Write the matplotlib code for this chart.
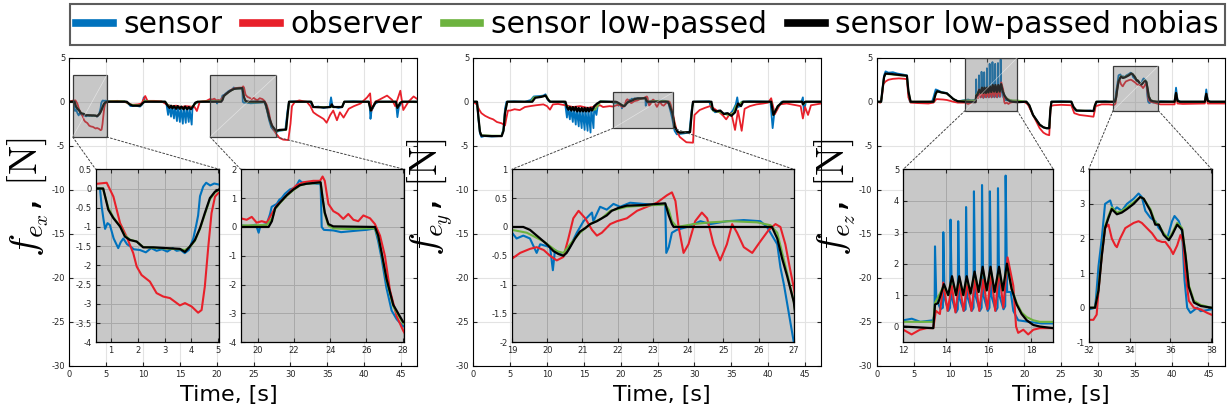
import matplotlib
matplotlib.use('Agg')
import matplotlib.pyplot as plt
from matplotlib.patches import Rectangle, ConnectionPatch
from matplotlib.lines import Line2D
from matplotlib.ticker import FormatStrFormatter

plt.rcParams['mathtext.fontset'] = 'cm'
plt.rcParams['axes.unicode_minus'] = False
plt.rcParams['font.family'] = 'DejaVu Sans'

# ---------------- f_ex ----------------
fx_sensor_t = [0.0, 0.59, 0.65, 0.72, 0.78, 0.87, 0.96, 1.1, 1.27, 1.36, 1.46, 1.6, 1.71, 1.85, 2.08, 2.3, 2.5, 2.7,
               2.9, 3.1, 3.3, 3.45, 3.6, 3.75, 3.9, 4.07, 4.18, 4.25, 4.32, 4.44, 4.55, 4.7, 4.85, 5.05,
               5.5, 6.5, 7.5, 8.0, 8.3, 9.0, 9.6, 9.9, 10.1, 10.3, 11.0, 12.0, 13.0, 13.2,
               13.4, 13.5, 13.8, 13.9, 14.2, 14.3, 14.6, 14.7, 15.0, 15.1, 15.4, 15.5, 15.8, 15.9, 16.2, 16.3,
               16.6, 16.7, 17.0, 17.3, 18.0,
               19.06, 19.5, 19.9, 20.05, 20.15, 20.5, 20.68, 20.77, 21.05, 21.2, 21.32, 21.5, 21.78, 22.0, 22.15,
               22.3, 22.43, 22.7, 23.0, 23.25, 23.47, 23.53, 23.65, 24.17, 24.6, 25.1, 25.6, 26.0, 26.47, 26.65,
               26.84, 27.1, 27.39, 27.67, 28.03,
               28.5, 29.3, 29.6, 29.8, 30.5, 31.5, 32.7, 33.0, 33.8, 34.5, 35.3, 35.5, 35.7, 36.5, 37.0, 37.3,
               38.5, 40.0, 40.7, 40.85, 41.0, 41.5, 42.0, 44.3, 44.5, 44.7, 45.2, 47.2]
fx_sensor = [0.0, 0.0, -0.45, -0.8, -1.05, -0.9, -0.95, -1.3, -1.55, -1.4, -1.3, -1.45, -1.5, -1.58, -1.6, -1.66, -1.55, -1.62,
             -1.58, -1.64, -1.55, -1.62, -1.6, -1.68, -1.6, -1.3, -0.95, -0.7, -0.2, 0.05, 0.15, 0.08, 0.13, 0.1,
             0.05, 0.0, 0.05, -0.2, -0.5, -0.45, -0.55, -0.3, 0.5, 0.0, 0.05, 0.0, 0.0, -0.4,
             -1.5, -0.4, -1.7, -0.5, -1.9, -0.5, -2.2, -0.6, -2.3, -0.6, -2.5, -0.6, -2.4, -0.6, -2.3, -0.7,
             -2.6, -0.8, -0.2, -0.1, 0.0,
             0.05, 0.03, 0.08, -0.2, 0.05, 0.1, 0.45, 0.7, 0.8, 0.95, 1.0, 1.15, 1.3, 1.35, 1.45,
             1.62, 1.55, 1.5, 1.52, 1.5, 1.5, 0.0, -0.1, -0.12, -0.18, -0.15, -0.12, -0.1, -0.05, -0.5,
             -1.1, -2.1, -2.9, -3.2, -3.45,
             -3.3, -3.2, -1.0, 0.0, 0.05, 0.0, 0.0, -0.6, -0.55, -0.7, -0.6, 0.5, -0.5, -0.7, -0.6, 0.0,
             0.05, 0.0, 0.0, -1.95, -1.0, -0.2, 0.0, 0.0, -1.75, -0.6, 0.0, 0.0]

fx_observer_t = [0.0, 0.43, 0.84, 1.09, 1.34, 1.58, 1.83, 1.96, 2.14, 2.45, 2.7, 2.95, 3.2, 3.57, 3.76, 4.01, 4.25,
                 4.38, 4.5, 4.63, 4.75, 4.88, 5.0,
                 5.5, 6.5, 7.5, 8.0, 8.5, 9.3, 9.8, 10.3, 10.6, 11.5, 12.5, 13.2, 13.8, 14.5, 15.2, 15.8, 16.5,
                 17.0, 17.3, 17.7, 18.6,
                 19.06, 19.39, 19.67, 19.94, 20.22, 20.5, 20.77, 21.05, 21.3, 21.6, 21.9, 22.15, 22.52, 23.07,
                 23.44, 23.58, 23.7, 23.9, 24.17, 24.45, 24.72, 25.0, 25.28, 25.55, 25.83, 26.2, 26.47, 26.75,
                 27.02, 27.3, 27.67, 28.03,
                 28.5, 29.0, 29.7, 30.0, 30.2, 30.6, 31.2, 31.8, 32.2, 32.7, 33.1, 33.6, 34.0, 34.5, 34.9, 35.4,
                 35.8, 36.3, 36.7, 37.2, 37.9, 38.6, 39.5, 40.4, 40.8, 41.0, 41.5, 42.2, 43.1, 43.8, 44.2, 44.9,
                 45.3, 46.0, 46.7, 47.2]
fx_observer = [0.0, 0.12, 0.15, -0.21, -0.9, -1.25, -1.68, -2.03, -2.25, -2.42, -2.72, -2.81, -2.85, -3.04, -2.98, -3.07, -3.23,
               -3.16, -2.55, -1.51, -0.64, -0.21, -0.12,
               0.05, 0.1, 0.0, -0.2, -0.35, -0.3, -0.2, 0.65, 0.1, 0.1, 0.05, -0.3, -0.5, -0.45, -0.6, -0.5, -0.55,
               -0.6, -1.05, 0.0, 0.1,
               0.3, 0.25, 0.35, 0.15, 0.2, 0.15, 0.45, 0.75, 0.9, 1.1, 1.3, 1.45, 1.55, 1.6,
               1.6, 1.75, 1.6, 0.8, 0.55, 0.45, 0.28, 0.45, 0.25, 0.2, 0.4, 0.3, 0.1, -0.3,
               -1.0, -2.2, -3.1, -3.6,
               -4.1, -4.3, -4.35, -2.5, -0.5, 0.0, 0.15, 0.05, 0.0, -0.5, -1.2, -1.5, -1.7, -1.96, -2.38, -1.5,
               -1.0, -2.1, -1.2, -1.8, -0.8, -0.5, -0.2, 0.5, 0.95, -1.0, 0.0, 0.3, 0.7, 0.2, -0.5, 1.25,
               -0.94, 0.0, 0.6, 0.3]

fx_lowpass_t = [0.0, 0.7, 0.9, 1.09, 1.34, 1.52, 1.71, 1.96, 2.2, 2.58, 3.07, 3.57, 3.76, 3.94, 4.13, 4.32, 4.5, 4.69,
                4.88, 5.04, 5.5, 7.5, 8.2, 9.0, 9.7, 10.2, 10.5, 13.0, 13.5, 14.5, 15.5, 16.5, 17.0, 17.4,
                19.06, 20.5, 20.8, 20.96, 21.23, 21.6, 21.97, 22.33, 22.7, 23.47, 23.58, 23.7, 23.9, 24.17, 25.0,
                26.0, 26.47, 26.65, 26.84, 27.11, 27.48, 28.03, 28.5, 29.4, 29.6, 29.8, 32.8, 33.1, 35.4, 37.0,
                37.3, 40.6, 40.9, 41.3, 41.6, 44.3, 44.5, 44.9, 45.2, 47.2]
fx_lowpass = [0.0, 0.0, -0.5, -0.75, -0.98, -1.22, -1.33, -1.38, -1.52, -1.54, -1.56, -1.58, -1.6, -1.52, -1.36, -1.05, -0.67, -0.28,
              -0.1, -0.03, 0.05, 0.05, -0.3, -0.4, -0.4, 0.1, 0.05, 0.0, -0.5, -0.6, -0.7, -0.7, -0.3, 0.0,
              0.05, 0.07, 0.3, 0.62, 0.83, 1.08, 1.28, 1.44, 1.5, 1.53, 1.0, 0.45, 0.05, -0.05, -0.07,
              -0.05, -0.05, -0.35, -0.95, -1.85, -2.75, -3.35, -3.25, -3.2, -1.5, 0.0, 0.0, -0.6, -0.6, -0.6,
              0.0, 0.0, -1.0, -0.4, 0.0, 0.0, -0.7, -0.1, 0.0, 0.0]

fx_nobias_t = [0.0, 0.71, 0.9, 1.09, 1.34, 1.52, 1.71, 1.96, 2.2, 2.58, 3.07, 3.57, 3.76, 3.94, 4.13, 4.32, 4.5, 4.69,
               4.88, 5.04, 5.5, 7.8, 8.2, 8.6, 9.6, 9.9, 10.2, 13.0, 13.3, 13.6, 13.8, 14.0, 14.2, 14.5, 14.7, 15.0,
               15.2, 15.5, 15.7, 16.0, 16.2, 16.5, 16.8, 17.1, 17.4,
               19.06, 20.6, 20.78, 20.96, 21.23, 21.6, 21.97, 22.33, 22.7, 23.47, 23.58, 23.7, 23.9, 24.17, 26.47,
               26.65, 26.84, 27.11, 27.48, 28.03, 28.5, 29.4, 29.6, 29.8, 32.8, 33.1, 34.5, 35.4, 35.6, 35.8, 37.0,
               37.3, 40.6, 40.9, 41.3, 41.6, 44.3, 44.5, 44.9, 45.2, 47.2]
fx_nobias = [0.0, 0.0, -0.55, -0.77, -0.99, -1.25, -1.34, -1.38, -1.53, -1.53, -1.55, -1.57, -1.65, -1.51, -1.34, -1.03, -0.64, -0.25,
             -0.08, -0.02, 0.0, 0.0, -0.3, -0.45, -0.45, -0.2, 0.0, 0.0, -0.4, -0.7, -0.45, -0.75, -0.5, -0.8, -0.5, -0.8,
             -0.55, -0.85, -0.55, -0.85, -0.6, -0.85, -0.5, -0.1, 0.0,
             0.0, 0.0, 0.2, 0.65, 0.85, 1.1, 1.3, 1.45, 1.5, 1.55, 1.0, 0.5, 0.1, 0.02, 0.0,
             -0.3, -0.9, -1.8, -2.7, -3.3, -3.2, -3.15, -1.5, 0.0, 0.0, -0.6, -0.65, -0.6, -0.3, -0.6, -0.6,
             0.0, 0.0, -1.0, -0.4, 0.0, 0.0, -0.7, -0.1, 0.0, 0.0]

# ---------------- f_ey ----------------
fy_sensor_t = [0.0, 0.5, 0.7, 0.9, 1.1, 1.5, 2.5, 3.5, 3.85, 4.1, 4.3, 4.5, 5.5, 7.0, 7.8, 8.2, 9.0, 9.5, 9.8, 10.1,
               10.4, 12.3, 12.5, 12.7, 12.8, 13.1, 13.2, 13.5, 13.6, 13.9, 14.0, 14.3, 14.4, 14.7, 14.8, 15.1,
               15.2, 15.5, 15.6, 15.9, 16.0, 16.3, 16.4, 16.7, 16.9, 17.2, 18.5, 19.0,
               19.13, 19.32, 19.51, 19.7, 19.8, 20.08, 20.16, 20.22, 20.46, 20.6, 20.84, 21.03, 21.27, 21.31, 21.5,
               21.69, 21.88, 22.07, 22.35, 22.73, 23.11, 23.35, 23.38, 23.45, 23.54, 23.68, 23.97, 24.35, 24.63,
               25.1, 25.58, 26.05, 26.24, 26.53, 26.62, 26.72, 26.86, 27.0,
               27.3, 27.6, 28.5, 29.3, 29.6, 29.8, 32.0, 32.3, 32.8, 33.3, 33.8, 34.3, 34.7, 35.2, 35.6, 35.8, 36.0,
               36.4, 37.5, 40.3, 40.6, 40.8, 41.2, 41.8, 44.5, 44.7, 44.85, 45.1, 47.2]
fy_sensor = [0.0, 0.0, -2.0, -3.6, -4.0, -3.9, -3.95, -3.9, -3.85, -3.0, -0.8, 0.0, 0.05, 0.0, 0.2, 0.6, 0.65, 0.7, 0.85, 0.2,
             0.0, 0.0, -0.5, -1.8, -0.6, -2.0, -0.7, -2.3, -0.7, -2.6, -0.7, -2.8, -0.8, -3.0, -0.8, -3.2,
             -0.8, -3.3, -0.8, -3.5, -0.7, -3.0, -0.6, -1.5, -0.3, 0.05, 0.0, -0.1,
             -0.2, -0.15, -0.2, -0.45, -0.3, -0.35, -0.75, -0.4, -0.5, -0.4, -0.1, 0.1, 0.25, 0.1, 0.35,
             0.3, 0.4, 0.35, 0.42, 0.4, 0.38, 0.4, -0.45, -0.35, -0.1, -0.05, 0.0, 0.1, 0.05,
             0.1, 0.12, 0.1, 0.0, -0.3, -0.7, -1.0, -1.5, -2.0,
             -3.3, -3.7, -3.6, -3.5, -1.0, 0.0, 0.05, -0.8, -1.2, -1.0, -1.4, -1.3, -1.5, -1.0, -0.3, 0.5, -0.6,
             0.0, 0.05, 0.0, -3.0, -1.5, -0.8, 0.0, 0.0, 0.5, -1.2, 0.0, 0.0]

fy_observer_t = [0.0, 0.45, 0.8, 1.1, 1.6, 2.2, 2.7, 3.2, 3.85, 4.3, 4.5, 4.7, 5.0, 5.6, 6.3, 7.0, 7.7, 8.5, 9.5, 10.0,
                 10.4, 10.8, 11.5, 12.5, 13.5, 14.5, 15.5, 16.5, 17.2, 17.6, 18.5, 19.0,
                 19.23, 19.51, 19.7, 19.9, 20.08, 20.27, 20.46, 20.6, 20.74, 20.89, 21.08, 21.27, 21.41, 21.55,
                 21.79, 21.98, 22.26, 22.55, 22.83, 23.11, 23.4, 23.54, 23.64, 23.73, 23.87, 24.01, 24.2, 24.39,
                 24.54, 24.72, 24.91, 25.1, 25.25, 25.39, 25.58, 25.82, 26.05, 26.29, 26.48, 26.62, 26.76, 26.9, 27.0,
                 27.3, 27.6, 28.0, 28.9, 29.8, 30.0, 30.7, 31.4, 32.1, 32.7, 33.4, 33.9, 34.3, 34.7, 35.0, 35.5,
                 35.9, 36.4, 36.8, 37.5, 38.4, 39.3, 40.0, 40.4, 40.9, 41.6, 42.5, 43.8, 44.4, 44.7, 45.0, 45.4,
                 45.8, 46.5, 47.2]
fy_observer = [0.0, -0.3, -0.9, -1.3, -1.6, -1.85, -2.0, -2.3, -2.45, -2.7, -1.8, -1.0, -1.0, -0.85, -0.95, -0.6, -0.5, -0.4, -0.3, -0.5,
               -0.9, -0.3, -0.25, -0.4, -0.6, -0.5, -0.7, -0.55, -0.4, -0.6, -0.5, -0.55,
               -0.45, -0.38, -0.35, -0.4, -0.5, -0.58, -0.52, -0.2, 0.15, 0.28, 0.15, -0.05, -0.15, -0.1,
               0.05, 0.1, 0.15, 0.28, 0.35, 0.42, 0.55, 0.6, 0.45, 0.0, -0.45, -0.3, 0.1, 0.25,
               0.15, -0.3, -0.58, -0.3, 0.05, -0.1, -0.35, -0.45, -0.25, -0.05, 0.05, 0.0, -0.3, -0.75, -1.05,
               -2.3, -3.3, -4.0, -4.6, -4.65, -1.5, -0.94, -0.7, -0.5, -0.8, -1.2, -1.6, -2.0, -1.5, -1.3, -3.2,
               -1.0, -3.3, -0.8, -0.5, -0.3, -0.2, -0.1, 0.4, -1.4, -0.3, -0.2, -0.4, -0.5, -1.9, -0.6, -1.5,
               -0.4, -0.3, -0.2]

fy_lowpass_t = [0.0, 0.5, 0.7, 0.9, 1.1, 2.5, 3.85, 4.1, 4.3, 4.6, 7.8, 8.2, 9.5, 9.9, 10.2, 10.5, 12.4, 12.7, 14.0,
                15.5, 16.5, 17.0, 17.3, 19.0, 19.42, 19.9, 20.27, 20.46, 20.65, 20.93, 21.22, 21.55, 21.79, 22.26,
                22.73, 23.35, 23.45, 23.54, 23.68, 24.16, 24.63, 25.2, 25.58, 25.96, 26.34, 26.53, 26.81, 27.0,
                27.4, 27.8, 29.4, 29.7, 29.9, 32.2, 32.5, 33.5, 34.5, 35.3, 35.6, 36.0, 36.5, 40.4, 40.7, 41.3,
                42.0, 44.6, 44.8, 45.1, 47.2]
fy_lowpass = [0.0, 0.0, -1.8, -3.4, -3.8, -3.85, -3.85, -3.2, -1.2, 0.0, 0.0, 0.5, 0.6, 0.7, 0.2, 0.0, 0.0, -0.6, -0.8,
              -0.95, -0.9, -0.3, 0.05, -0.05, -0.1, -0.25, -0.42, -0.45, -0.3, -0.1, 0.05, 0.15, 0.28, 0.35,
              0.37, 0.39, 0.3, 0.1, 0.0, 0.05, 0.08, 0.1, 0.09, 0.08, 0.03, -0.1, -0.8, -1.3,
              -3.0, -3.5, -3.45, -0.5, 0.0, 0.0, -1.0, -1.2, -1.5, -1.3, -0.5, -0.3, 0.0, 0.0, -1.5, -0.5,
              0.0, 0.0, -0.3, 0.0, 0.0]

fy_nobias_t = [0.0, 0.5, 0.7, 0.9, 1.1, 2.5, 3.85, 4.1, 4.3, 4.6, 8.0, 8.4, 9.2, 9.8, 10.1, 10.4, 12.5, 12.7, 12.9,
               13.1, 13.3, 13.5, 13.7, 13.9, 14.1, 14.3, 14.5, 14.7, 14.9, 15.1, 15.3, 15.5, 15.7, 15.9, 16.1, 16.4,
               16.8, 17.2, 19.32, 19.51, 19.8, 19.99, 20.18, 20.32, 20.46, 20.55, 20.65, 20.79, 20.93, 21.08, 21.22,
               21.41, 21.55, 21.69, 21.83, 22.02, 22.26, 22.73, 23.11, 23.35, 23.45, 23.54, 23.59, 26.15, 26.38,
               26.53, 26.67, 26.81, 27.0, 27.3, 27.7, 28.0, 29.4, 29.6, 29.8, 32.3, 32.5, 33.0, 33.5, 34.0, 34.5,
               35.0, 35.5, 35.9, 36.3, 36.6, 40.4, 40.7, 41.3, 42.0, 44.6, 44.7, 45.0, 47.2]
fy_nobias = [0.0, 0.0, -1.8, -3.4, -3.85, -3.9, -3.9, -3.3, -1.3, 0.0, 0.0, 0.45, 0.55, 0.7, 0.3, 0.0, 0.0, -0.6, -0.9,
             -0.6, -1.0, -0.6, -1.0, -0.6, -1.1, -0.7, -1.1, -0.7, -1.1, -0.7, -1.1, -0.7, -1.1, -0.7, -1.0, -0.5,
             -0.2, 0.0, 0.0, -0.05, -0.2, -0.3, -0.42, -0.47, -0.5, -0.45, -0.35, -0.2, -0.08, -0.02, 0.05,
             0.1, 0.15, 0.2, 0.28, 0.33, 0.37, 0.38, 0.4, 0.41, 0.2, 0.05, 0.0, 0.0, 0.0,
             -0.2, -0.55, -0.85, -1.3, -2.8, -3.4, -3.5, -3.45, -1.5, 0.0, 0.0, -0.9, -1.1, -1.0, -1.4, -1.3,
             -1.6, -1.2, -0.2, -0.5, 0.0, 0.0, -1.5, -0.5, 0.0, 0.0, -0.3, 0.0, 0.0]

# ---------------- f_ez ----------------
fz_sensor_t = [0.0, 0.6, 0.8, 1.0, 1.2, 1.6, 2.2, 2.8, 3.5, 4.1, 4.3, 4.5, 5.5, 7.5, 7.7, 8.0, 8.3, 8.8, 9.5, 10.0, 10.4,
               11.0, 12.0, 12.4, 12.8, 13.4,
               13.47, 13.49, 13.55, 13.75, 13.86, 13.88, 13.94, 14.12, 14.2, 14.22, 14.28, 14.48, 14.56, 14.58,
               14.64, 14.85, 14.93, 14.95, 15.01, 15.22, 15.3, 15.32, 15.38, 15.6, 15.68, 15.7, 15.76, 15.97,
               16.05, 16.07, 16.13, 16.35, 16.43, 16.45, 16.51, 16.71, 16.79, 16.81, 16.88, 17.05, 17.17, 17.4,
               17.9, 18.5, 19.05,
               19.5, 20.3, 20.7, 21.2, 22.1, 22.6, 23.0, 23.4, 23.55, 23.7, 25.0, 26.4, 26.6, 27.0, 28.0, 29.0,
               29.5, 29.7, 29.9, 31.0, 32.0,
               32.31, 32.36, 32.48, 32.64, 32.8, 33.05, 33.21, 33.38, 33.62, 33.87, 34.2, 34.44, 34.6, 34.77,
               35.02, 35.26, 35.43, 35.59, 35.84, 36.08, 36.2, 36.41, 36.57, 36.69, 36.82, 36.98, 37.31, 37.48, 38.0,
               38.5, 40.4, 40.6, 40.8, 41.2, 44.5, 44.7, 44.9, 45.3, 47.2]
fz_sensor = [0.0, 0.0, 1.5, 3.0, 3.45, 3.3, 3.35, 3.2, 3.1, 3.0, 1.0, 0.0, -0.05, 0.0, 0.5, 1.4, 1.3, 1.1, 1.0, 0.6, 0.3,
             0.05, 0.2, 0.25, 0.15, 0.2,
             0.4, 2.55, 0.9, 0.55, 0.6, 3.0, 0.9, 0.5, 0.6, 3.4, 0.9, 0.45, 0.55, 3.35,
             0.9, 0.5, 0.55, 3.8, 0.95, 0.5, 0.6, 4.3, 1.0, 0.5, 0.6, 4.5, 1.0, 0.5,
             0.6, 4.3, 1.0, 0.5, 0.6, 4.4, 1.0, 0.55, 0.65, 4.8, 1.1, 1.1, 0.5, 0.2,
             0.15, 0.1, 0.1,
             0.0, 0.0, -0.5, -1.5, -2.6, -2.9, -3.0, -3.05, -1.0, 0.0, 0.05, 0.0, -0.7, -1.0, -1.05, -1.0,
             -1.1, -0.3, 0.0, 0.05, -0.05,
             0.0, 0.3, 1.2, 2.0, 3.0, 3.1, 2.8, 2.9, 2.8, 3.0, 3.15, 3.3, 3.2, 2.8,
             2.6, 2.5, 2.3, 2.2, 2.0, 2.5, 2.65, 2.5, 2.2, 0.8, 0.0, -0.15, 0.0, -0.1, -0.05,
             0.05, 0.0, 1.6, 0.2, 0.0, 0.0, 1.4, 0.1, 0.0, 0.0]

fz_observer_t = [0.0, 0.5, 0.7, 0.9, 1.2, 1.6, 2.2, 3.0, 3.8, 4.1, 4.3, 4.6, 5.5, 7.0, 7.7, 8.1, 9.0, 9.5, 10.4, 11.0,
                 12.0, 12.39, 12.78, 13.1, 13.41, 13.53, 13.72, 13.88, 14.08, 14.28, 14.45, 14.63, 14.83, 15.02,
                 15.2, 15.38, 15.57, 15.76, 15.95, 16.13, 16.32, 16.5, 16.7, 16.9, 17.17, 17.3, 17.4, 17.64, 17.87,
                 18.11, 18.42, 19.05,
                 20.0, 20.5, 21.2, 22.1, 22.6, 23.0, 23.4, 23.6, 24.0, 25.0, 26.4, 26.8, 27.5, 28.5, 29.4, 29.7,
                 30.5, 31.5, 32.0,
                 32.23, 32.39, 32.48, 32.64, 32.8, 32.97, 33.13, 33.3, 33.38, 33.54, 33.79, 34.2, 34.44, 34.6,
                 34.85, 35.1, 35.34, 35.59, 35.75, 36.0, 36.13, 36.33, 36.49, 36.62, 36.74, 36.9, 37.15, 37.48,
                 37.8, 38.0, 38.5, 40.4, 40.6, 40.8, 41.5, 44.5, 44.7, 44.9, 47.2]
fz_observer = [0.0, -0.1, 0.5, 2.0, 2.3, 2.5, 2.6, 2.65, 2.6, 2.55, 0.5, -0.1, -0.15, -0.2, -0.1, 0.3, 0.25, 0.2, 0.0, -0.1,
               -0.1, -0.25, -0.1, -0.05, -0.05, 0.5, 0.4, 1.4, 0.5, 1.3, 0.45, 1.45, 0.5, 1.4,
               0.5, 1.5, 0.5, 1.5, 0.55, 1.7, 0.5, 1.8, 0.6, 2.2, 1.3, 0.0, -0.2, -0.1, -0.25,
               -0.1, -0.05, -0.05,
               0.0, -0.3, -1.5, -3.0, -3.5, -3.7, -3.8, -0.5, -0.4, -0.35, -0.4, -1.3, -1.5, -1.6, -1.7, -0.5,
               -0.3, -0.3, -0.35,
               -0.35, -0.2, 0.5, 1.5, 2.3, 2.4, 2.0, 1.8, 1.75, 2.0, 2.3, 2.45, 2.5, 2.45,
               2.3, 2.15, 1.95, 1.9, 1.9, 1.7, 1.55, 1.8, 2.1, 1.9, 1.0, 0.2, 0.0, -0.05,
               -0.15, -0.2, -0.3, -0.3, 0.95, -0.2, -0.25, -0.2, 0.9, -0.2, -0.2]

fz_lowpass_t = [0.0, 0.6, 0.8, 1.0, 1.2, 2.0, 3.0, 4.1, 4.3, 4.6, 7.7, 8.0, 8.2, 9.5, 10.4, 11.0, 12.0, 13.41, 13.49,
                13.91, 14.11, 14.29, 14.48, 14.63, 14.82, 14.98, 15.16, 15.35, 15.54, 15.73, 15.92, 16.1, 16.29,
                16.5, 16.68, 16.87, 17.09, 17.33, 17.56, 17.8, 18.11, 18.42, 19.05,
                20.3, 20.7, 21.2, 22.1, 22.6, 23.0, 23.4, 23.55, 23.7, 26.4, 26.7, 27.1, 29.4, 29.6, 29.8,
                32.31, 32.48, 32.64, 32.8, 32.97, 33.13, 33.38, 33.62, 33.87, 34.2, 34.52, 34.69, 35.02, 35.26,
                35.43, 35.67, 35.92, 36.08, 36.33, 36.57, 36.74, 36.9, 37.15, 37.48, 38.0,
                40.4, 40.6, 40.8, 41.1, 44.5, 44.7, 44.9, 45.2, 47.2]
fz_lowpass = [0.0, 0.0, 1.5, 2.8, 3.15, 3.1, 3.0, 2.95, 1.2, 0.0, 0.0, 0.9, 1.15, 0.95, 0.3, 0.05, 0.15, 0.15, 0.75,
              1.3, 1.0, 1.55, 1.0, 1.55, 1.0, 1.55, 1.05, 1.7, 1.1, 1.85, 1.15, 1.85, 1.1,
              1.85, 1.15, 1.95, 1.2, 0.75, 0.45, 0.3, 0.2, 0.15, 0.15,
              0.0, -0.4, -1.5, -2.6, -2.9, -3.0, -3.0, -1.0, 0.0, 0.0, -0.6, -1.0, -1.05, -0.4, 0.0,
              0.0, 0.55, 1.55, 2.35, 2.65, 2.9, 2.75, 2.8, 2.9, 3.05, 3.2, 3.15, 2.85, 2.45,
              2.4, 2.15, 2.0, 2.15, 2.45, 2.3, 1.55, 0.65, 0.2, 0.08, 0.0,
              0.0, 1.0, 0.1, 0.0, 0.0, 0.9, 0.1, 0.0, 0.0]

fz_nobias_t = [0.0, 0.6, 0.8, 1.0, 1.2, 2.0, 3.0, 4.1, 4.3, 4.6, 7.7, 8.0, 8.2, 8.8, 9.5, 10.0, 10.4, 11.0, 12.0, 13.41,
               13.49, 13.64, 13.91, 14.11, 14.29, 14.48, 14.63, 14.82, 14.98, 15.16, 15.35, 15.54, 15.73, 15.92,
               16.1, 16.29, 16.5, 16.68, 16.87, 17.09, 17.33, 17.56, 17.8, 18.11, 18.42, 19.05,
               20.3, 20.7, 21.2, 22.1, 22.6, 23.0, 23.4, 23.55, 23.7, 26.4, 26.7, 27.1, 29.4, 29.6, 29.8,
               32.31, 32.48, 32.64, 32.8, 32.97, 33.13, 33.38, 33.62, 33.87, 34.2, 34.52, 34.69, 35.02, 35.26,
               35.43, 35.67, 35.92, 36.08, 36.33, 36.57, 36.74, 36.9, 37.15, 37.48, 38.0,
               40.4, 40.6, 40.8, 41.1, 44.5, 44.7, 44.9, 45.2, 47.2]
fz_nobias = [0.0, 0.0, 1.5, 2.8, 3.2, 3.15, 3.05, 2.95, 1.2, 0.0, 0.0, 0.9, 1.2, 1.05, 0.95, 0.6, 0.3, 0.05, 0.0, -0.05,
             0.7, 0.75, 1.35, 1.0, 1.6, 1.0, 1.6, 1.0, 1.6, 1.05, 1.75, 1.1, 1.9, 1.15,
             1.9, 1.1, 1.9, 1.15, 2.0, 1.2, 0.7, 0.4, 0.2, 0.05, 0.0, -0.05,
             0.0, -0.4, -1.5, -2.6, -2.9, -3.0, -3.0, -1.0, 0.0, 0.0, -0.6, -1.0, -1.05, -0.4, 0.0,
             0.0, 0.5, 1.5, 2.3, 2.6, 2.85, 2.7, 2.75, 2.85, 3.0, 3.2, 3.15, 2.8, 2.4,
             2.4, 2.1, 1.95, 2.1, 2.4, 2.25, 1.5, 0.6, 0.15, 0.05, 0.0,
             0.0, 1.0, 0.1, 0.0, 0.0, 0.9, 0.1, 0.0, 0.0]

series_labels = ['sensor', 'observer', 'sensor low-passed', 'sensor low-passed nobias']
series_colors = ['#0072BD', '#E8202A', '#6DB33F', '#000000']

W, H = 1227, 412
fig = plt.figure(figsize=(W / 100, H / 100), dpi=100)


def px(l, r, t, b):
    return [l / W, 1 - b / H, (r - l) / W, (b - t) / H]


def draw(ax, data, lws):
    for (t, v), c, lw in zip(data, series_colors, lws):
        ax.plot(t, v, color=c, lw=lw)


panels = [
    dict(data=[(fx_sensor_t, fx_sensor), (fx_observer_t, fx_observer), (fx_lowpass_t, fx_lowpass), (fx_nobias_t, fx_nobias)],
         label=r'$f_{e_x}$, $[\mathrm{N}]$', left=69.3, xlab=229,
         insets=[dict(l=95.7, r=219.3, xlim=(0.43, 5.04), ylim=(-4, 0.5), xt=[1, 2, 3, 4, 5],
                      yt=[0.5, 0, -0.5, -1, -1.5, -2, -2.5, -3, -3.5, -4], box=(0.46, 5.07, -4, 3)),
                 dict(l=240.7, r=404.3, xlim=(19.06, 28.09), ylim=(-4, 2), xt=[20, 22, 24, 26, 28],
                      yt=[2, 1, 0, -1, -2, -3, -4], box=(19.1, 28.1, -4, 3))]),
    dict(data=[(fy_sensor_t, fy_sensor), (fy_observer_t, fy_observer), (fy_lowpass_t, fy_lowpass), (fy_nobias_t, fy_nobias)],
         label=r'$f_{e_y}$, $[\mathrm{N}]$', left=473.3, xlab=661.5,
         insets=[dict(l=512, r=793.8, xlim=(19, 27), ylim=(-2, 1), xt=list(range(19, 28)),
                      yt=[1, 0.5, 0, -0.5, -1, -1.5, -2], box=(19.0, 27.1, -3, 1.07))]),
    dict(data=[(fz_sensor_t, fz_sensor), (fz_observer_t, fz_observer), (fz_lowpass_t, fz_lowpass), (fz_nobias_t, fz_nobias)],
         label=r'$f_{e_z}$, $[\mathrm{N}]$', left=876.7, xlab=1060.5,
         insets=[dict(l=903.3, r=1053.3, xlim=(12, 19.05), ylim=(-0.5, 5), xt=[12, 14, 16, 18],
                      yt=[0, 1, 2, 3, 4, 5], box=(12.0, 19.05, -1, 5)),
                 dict(l=1088.7, r=1211.7, xlim=(32, 38.02), ylim=(-1, 4), xt=[32, 34, 36, 38],
                      yt=[-1, 0, 1, 2, 3, 4], box=(32.06, 38.2, -1, 4.06))]),
]

for p in panels:
    ax = fig.add_axes(px(p['left'], p['left'] + 348, 57.7, 366))
    draw(ax, p['data'], [1.3, 1.3, 1.3, 1.6])
    ax.set_xlim(0, 47.2)
    ax.set_ylim(-30, 5)
    ax.set_xticks(range(0, 46, 5))
    ax.set_yticks(range(-30, 6, 5))
    ax.grid(True, color='#e3e3e3', lw=0.8)
    ax.set_axisbelow(True)
    ax.tick_params(direction='in', top=True, right=True, length=3, labelsize=6, colors='#262626', pad=3)
    ax.yaxis.set_major_formatter(FormatStrFormatter('%g'))
    for s in ax.spines.values():
        s.set_linewidth(0.8)
    ax.set_ylabel(p['label'], fontsize=28)
    ax.yaxis.set_label_coords(-0.053, 0.547)
    ax.set_xlabel('Time, [s]', fontsize=16, va='top')
    ax.xaxis.set_label_coords((p['xlab'] - p['left']) / 348, -0.062)

    for ins in p['insets']:
        x0, x1, y0, y1 = ins['box']
        ax.add_patch(Rectangle((x0, y0), x1 - x0, y1 - y0, facecolor=(0.43, 0.43, 0.43, 0.38),
                               edgecolor='#3a3a3a', lw=0.9, zorder=5))
        ax.plot([x0, x1], [y0, y1], color='white', lw=0.5, alpha=0.5, zorder=6)

        iax = fig.add_axes(px(ins['l'], ins['r'], 169.3, 342.3))
        iax.set_facecolor('#c8c8c8')
        draw(iax, p['data'], [1.5, 1.5, 1.5, 1.6])
        iax.set_xlim(*ins['xlim'])
        iax.set_ylim(*ins['ylim'])
        iax.set_xticks(ins['xt'])
        iax.set_yticks(ins['yt'])
        iax.xaxis.set_major_formatter(FormatStrFormatter('%g'))
        iax.yaxis.set_major_formatter(FormatStrFormatter('%g'))
        iax.grid(True, color='#a9a9a9', lw=0.7)
        iax.set_axisbelow(True)
        iax.tick_params(direction='in', top=True, right=True, length=3, labelsize=6, colors='#262626', pad=3)
        for s in iax.spines.values():
            s.set_linewidth(0.9)

        for bx, ix in ((x0, 0), (x1, 1)):
            con = ConnectionPatch(xyA=(bx, y0), coordsA=ax.transData, xyB=(ix, 1), coordsB=iax.transAxes,
                                  color='#444444', lw=0.7, linestyle=(0, (2, 2)))
            fig.add_artist(con)

handles = [Line2D([], [], color=c, lw=5.5) for c in series_colors]
leg = fig.legend(handles, series_labels, loc='upper left', bbox_to_anchor=(70 / W, 1 - 4 / H), ncol=4,
                 fontsize=21.4, frameon=True, fancybox=False, edgecolor='#333333', handlelength=1.23,
                 handletextpad=0.36, columnspacing=0.71, borderpad=0.2, borderaxespad=0)
leg.get_frame().set_linewidth(1.5)

fig.savefig('out.png', dpi=100)
